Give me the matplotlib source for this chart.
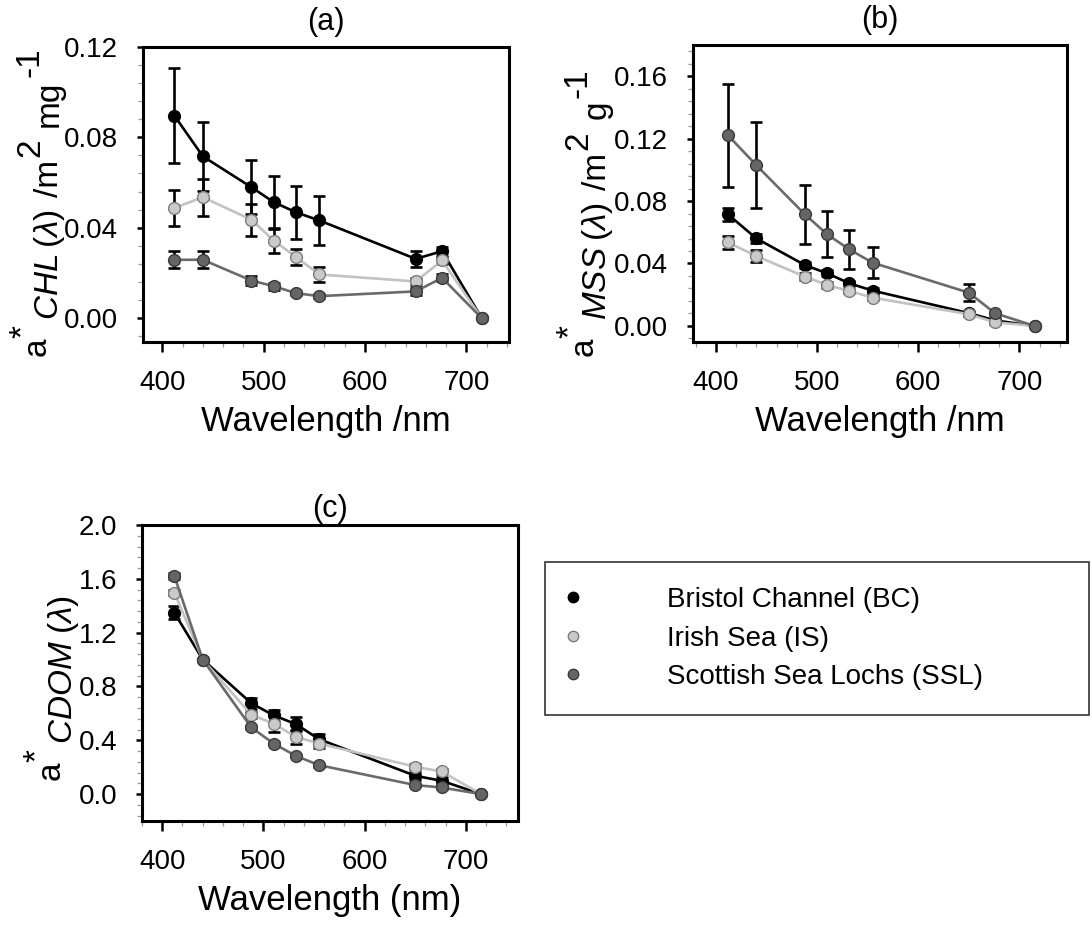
import numpy as np
import matplotlib
matplotlib.use("Agg")
import matplotlib.pyplot as plt
from matplotlib.lines import Line2D
from matplotlib.ticker import MultipleLocator, FormatStrFormatter
from matplotlib.transforms import IdentityTransform

plt.rcParams['font.family'] = ['Liberation Sans', 'DejaVu Sans']
plt.rcParams['mathtext.fontset'] = 'custom'
plt.rcParams['mathtext.rm'] = 'Liberation Sans'
plt.rcParams['mathtext.it'] = 'Liberation Sans:italic'

# AC-9 wavelengths
wl = np.array([412, 440, 488, 510, 532, 555, 650, 676, 715])

# (a) chlorophyll specific absorption
chl_bc = [0.0896, 0.0716, 0.0579, 0.0513, 0.0468, 0.0432, 0.0262, 0.0296, 0.0]
chl_bc_err = [0.021, 0.0153, 0.012, 0.0118, 0.0118, 0.011, 0.0034, 0.002, 0.0]
chl_is = [0.0488, 0.0535, 0.0435, 0.0343, 0.027, 0.0193, 0.0162, 0.0255, 0.0]
chl_is_err = [0.0081, 0.0081, 0.0071, 0.0055, 0.0037, 0.0032, 0.0015, 0.0015, 0.0]
chl_ssl = [0.0258, 0.0258, 0.0166, 0.0141, 0.011, 0.0097, 0.0118, 0.0178, 0.0]
chl_ssl_err = [0.0038, 0.0038, 0.002, 0.0015, 0.001, 0.001, 0.0015, 0.0015, 0.0]

# (b) mineral suspended solids specific absorption
mss_bc = [0.0715, 0.0561, 0.039, 0.0337, 0.0273, 0.0226, 0.0082, 0.0035, 0.0]
mss_bc_err = [0.004, 0.003, 0.002, 0.002, 0.0015, 0.0015, 0.001, 0.001, 0.0]
mss_is = [0.0535, 0.0448, 0.0316, 0.0262, 0.0224, 0.0181, 0.0075, 0.0023, 0.0]
mss_is_err = [0.004, 0.004, 0.002, 0.002, 0.0015, 0.0015, 0.001, 0.001, 0.0]
mss_ssl = [0.1222, 0.103, 0.0715, 0.0587, 0.049, 0.0405, 0.0213, 0.0081, 0.0]
mss_ssl_err = [0.033, 0.0275, 0.0188, 0.0148, 0.0125, 0.0098, 0.0053, 0.001, 0.0]

# (c) normalised CDOM absorption
cdom_bc = [1.348, 1.0, 0.675, 0.586, 0.52, 0.408, 0.136, 0.099, 0.0]
cdom_bc_err = [0.05, 0.0, 0.04, 0.04, 0.05, 0.04, 0.03, 0.03, 0.0]
cdom_is = [1.497, 1.0, 0.589, 0.524, 0.425, 0.376, 0.203, 0.168, 0.0]
cdom_is_err = [0.02, 0.0, 0.02, 0.06, 0.05, 0.03, 0.02, 0.02, 0.0]
cdom_ssl = [1.62, 1.0, 0.495, 0.376, 0.284, 0.215, 0.067, 0.049, 0.0]
cdom_ssl_err = [0.02, 0.0, 0.01, 0.01, 0.01, 0.01, 0.01, 0.01, 0.0]

names = ["Bristol Channel (BC)", "Irish Sea (IS)", "Scottish Sea Lochs (SSL)"]
line_cols = ["black", "#c2c2c2", "#6a6a6a"]
face_cols = ["black", "#cacaca", "#656565"]
edge_cols = ["black", "#7c7c7c", "#3a3a3a"]

W, H = 1092, 926
fig = plt.figure(figsize=(W / 100, H / 100), dpi=100)


def box(l, t, r, b):
    return [l / W, 1 - b / H, (r - l) / W, (b - t) / H]


def panel(rect, data, xlim, ylim, ystep, yfmt, title, xlabel, tpad):
    ax = fig.add_axes(box(*rect))
    for i, (y, e) in enumerate(data):
        y = np.array(y); e = np.array(e)
        m = e > 0
        ax.errorbar(wl[m], y[m], yerr=e[m], fmt='none', ecolor='black',
                    elinewidth=1.9, capsize=4.5, capthick=1.9, zorder=2)
        ax.plot(wl, y, '-o', color=line_cols[i], lw=1.9, ms=8.5,
                mfc=face_cols[i], mec=edge_cols[i], mew=1.0, zorder=3)
    ax.set_xlim(*xlim)
    ax.set_ylim(*ylim)
    ax.xaxis.set_major_locator(MultipleLocator(100))
    ax.xaxis.set_minor_locator(MultipleLocator(20))
    ax.yaxis.set_major_locator(MultipleLocator(ystep))
    ax.yaxis.set_minor_locator(MultipleLocator(ystep / 5))
    ax.yaxis.set_major_formatter(FormatStrFormatter(yfmt))
    ax.tick_params(which='major', direction='out', length=7.5, width=1.8,
                   labelsize=20, pad=13)
    ax.tick_params(which='minor', direction='out', length=3.5, width=0.9,
                   color='#999999')
    ax.tick_params(axis='y', which='major', length=4, pad=14)
    for s in ax.spines.values():
        s.set_linewidth(2.2)
    ax.set_title(title, fontsize=22, pad=tpad)
    ax.set_xlabel(xlabel, fontsize=25, labelpad=6)
    return ax


def ylab(xa, y0, xm, main, size=24):
    # rotated label built from pieces: a, raised *, then the rest
    r = fig.canvas.get_renderer()
    kw = dict(rotation=90, rotation_mode='anchor', ha='left', va='baseline',
              fontsize=size, transform=IdentityTransform())
    t = fig.text(xa, H - y0, "a", **kw)
    y = y0 - t.get_window_extent(r).height
    t = fig.text(xa - 14, H - y, "*", **kw)
    y -= t.get_window_extent(r).height + 5
    for s, up, gap in main:
        t = fig.text(xm - up, H - y, s, **kw)
        y -= t.get_window_extent(r).height + gap


panel((143, 47, 509, 342), [(chl_bc, chl_bc_err), (chl_is, chl_is_err),
                            (chl_ssl, chl_ssl_err)],
      (381, 742), (-0.0106, 0.12), 0.04, '%.2f', "(a)", "Wavelength /nm", 12)
panel((693, 45, 1067, 342), [(mss_bc, mss_bc_err), (mss_is, mss_is_err),
                             (mss_ssl, mss_ssl_err)],
      (377.5, 747), (-0.0103, 0.18), 0.04, '%.2f', "(b)", "Wavelength /nm", 12)
panel((142, 525, 518, 821), [(cdom_bc, cdom_bc_err), (cdom_is, cdom_is_err),
                             (cdom_ssl, cdom_ssl_err)],
      (380, 751.5), (-0.2, 2.0), 0.4, '%.1f', "(c)", "Wavelength (nm)", 6)

ylab(46, 356, 58, [(r"$\mathit{CHL}$", 0, 5), (r"($\lambda$)", 0, 12),
                   ("/m", 0, 3), ("2", 19, 12), ("mg", 0, 3), ("-1", 19, 0)])
ylab(593, 356, 606, [(r"$\mathit{MSS}$", 0, 5), (r"($\lambda$)", 0, 12),
                     ("/m", 0, 3), ("2", 19, 12), ("g", 0, 3), ("-1", 19, 0)])
ylab(60, 780, 72, [(r"$\mathit{CDOM}$", 0, 6), (r"($\lambda$)", 0, 0)])

handles = [Line2D([], [], ls='none', marker='o', ms=7.5, mfc=face_cols[i],
                  mec=edge_cols[i], mew=1) for i in range(3)]
leg = fig.legend(handles, names, loc='upper left',
                 bbox_to_anchor=(545 / W, 1 - 562 / H, (1089 - 545) / W, 0),
                 mode='expand', fontsize=20, frameon=True, fancybox=False,
                 edgecolor='black', borderpad=0.9, labelspacing=0.45,
                 handlelength=0.2, handletextpad=3.3, borderaxespad=0)
leg.get_frame().set_linewidth(1.2)

fig.savefig("out.png", dpi=100)
